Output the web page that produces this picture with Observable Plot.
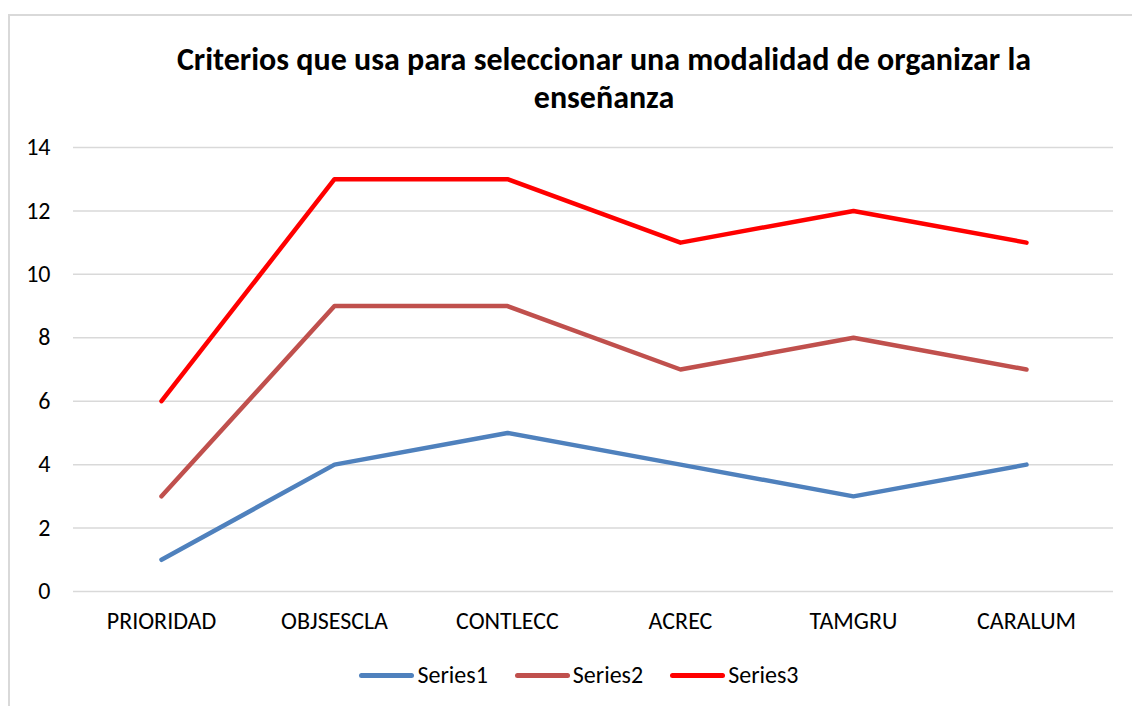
<!DOCTYPE html>
<html>
<head>
<meta charset="utf-8">
<script src="https://cdn.jsdelivr.net/npm/d3@7"></script>
<script src="https://cdn.jsdelivr.net/npm/@observablehq/plot@0.6"></script>
<style>
  html, body { margin: 0; padding: 0; background: #fff; width: 1132px; height: 706px; overflow: hidden; }
  body { font-family: Calibri, Carlito, Lato, "Liberation Sans", sans-serif; position: relative; }
  #frame { position: absolute; left: 8px; top: 14px; width: 1140px; height: 720px; border: 2px solid #d9d9d9; box-sizing: border-box; }
  #title { position: absolute; left: 0; top: 41px; width: 1208px; text-align: center; font-weight: bold; font-size: 32px; line-height: 38px; color: #000; }
  #chart { position: absolute; left: 0; top: 0; }
  #legend { position: absolute; top: 660px; left: 0; width: 1132px; display: flex; justify-content: center; gap: 27px; font-size: 24px; line-height: 30px; color: #000; padding-left: 26px; box-sizing: border-box; }
  .item { display: flex; align-items: center; }
  .sw { width: 55px; height: 5px; border-radius: 3px; margin-right: 3px; }
</style>
</head>
<body>
<div id="frame"></div>
<div id="title">Criterios que usa para seleccionar una modalidad de organizar la<br>enseñanza</div>
<div id="chart"></div>
<div id="legend"></div>
<script>
const categories = ["PRIORIDAD", "OBJSESCLA", "CONTLECC", "ACREC", "TAMGRU", "CARALUM"];
const seriesNames = ["Series1", "Series2", "Series3"];
const series1 = [1, 4, 5, 4, 3, 4];
const series2 = [3, 9, 9, 7, 8, 7];
const series3 = [6, 13, 13, 11, 12, 11];
const seriesColors = ["#4F81BD", "#C0504D", "#FF0000"];
const yTicks = [0, 2, 4, 6, 8, 10, 12, 14];

const allSeries = [series1, series2, series3];
const data = [];
allSeries.forEach((vals, si) => {
  vals.forEach((v, i) => data.push({ series: seriesNames[si], category: categories[i], value: v }));
});

const plot = Plot.plot({
  width: 1132,
  height: 706,
  marginTop: 147,
  marginBottom: 115,
  marginLeft: 73,
  marginRight: 19,
  style: { fontFamily: 'Calibri, Carlito, Lato, "Liberation Sans", sans-serif', fontSize: "24px", color: "#000", background: "transparent", overflow: "visible" },
  x: { type: "point", domain: categories, padding: 0.5, label: null },
  y: { domain: [0, 14], ticks: yTicks, label: null },
  color: { domain: seriesNames, range: seriesColors },
  marks: [
    Plot.gridY(yTicks, { stroke: "#d9d9d9", strokeOpacity: 1, strokeWidth: 1.5 }),
    Plot.axisY(yTicks, { tickSize: 0, tickPadding: 23, fontSize: 24, fill: "#000" }),
    Plot.axisX({ tickSize: 0, tickPadding: 20, fontSize: 24, fill: "#000" }),
    Plot.line(data, { x: "category", y: "value", z: "series", stroke: "series", strokeWidth: 4.5, strokeLinejoin: "round", strokeLinecap: "round" })
  ]
});
document.getElementById("chart").appendChild(plot);

const legend = document.getElementById("legend");
seriesNames.forEach((name, i) => {
  const item = document.createElement("div");
  item.className = "item";
  const sw = document.createElement("div");
  sw.className = "sw";
  sw.style.background = seriesColors[i];
  const label = document.createElement("span");
  label.textContent = name;
  item.appendChild(sw);
  item.appendChild(label);
  legend.appendChild(item);
});
</script>
</body>
</html>
